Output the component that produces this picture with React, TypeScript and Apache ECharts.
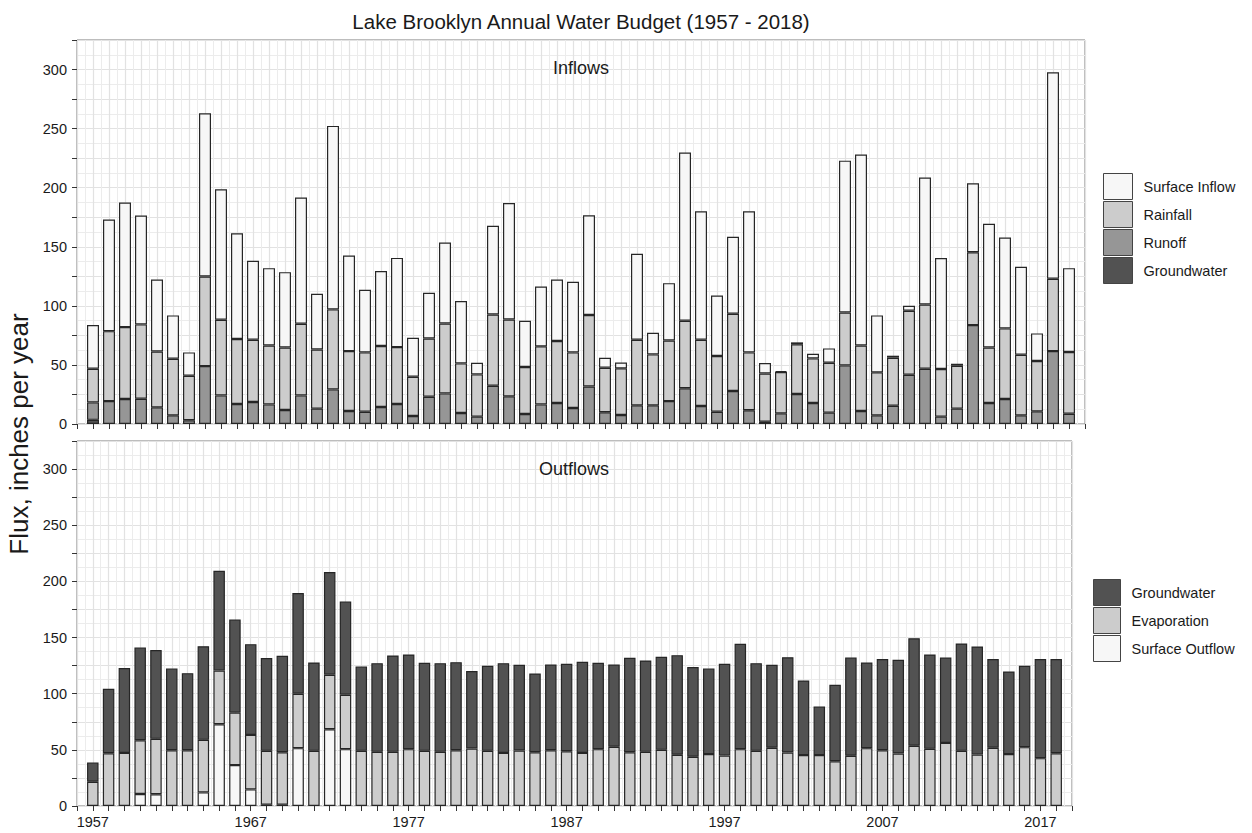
import React, { useEffect, useRef } from "react";
import * as echarts from "echarts";

const years = [
  1957, 1958, 1959, 1960, 1961, 1962, 1963, 1964, 1965, 1966, 1967, 1968, 1969, 1970, 1971, 1972,
  1973, 1974, 1975, 1976, 1977, 1978, 1979, 1980, 1981, 1982, 1983, 1984, 1985, 1986, 1987, 1988,
  1989, 1990, 1991, 1992, 1993, 1994, 1995, 1996, 1997, 1998, 1999, 2000, 2001, 2002, 2003, 2004,
  2005, 2006, 2007, 2008, 2009, 2010, 2011, 2012, 2013, 2014, 2015, 2016, 2017, 2018,
];
// axis padding years (one empty slot on each side)
const axisStart = 1956;
const axisEnd = 2019;

// Inflows (inches per year)
const inGroundwater = [
  3.5, 0, 0, 0, 0, 0, 0, 0, 0, 0, 0, 0, 0, 0, 0, 0,
  0, 0, 0, 0, 0, 0, 0, 0, 0, 0, 0, 0, 0, 0, 0, 0,
  0, 0, 0, 0, 0, 0, 0, 0, 0, 0, 0, 0, 0, 0, 0, 0,
  0, 0, 0, 0, 0, 0, 0, 0, 0, 0, 0, 0, 0, 0,
];
const inRunoff = [
  14.8, 19.4, 21.1, 21.4, 14.1, 7.3, 3.2, 49.0, 24.2, 16.9, 18.6, 16.6, 11.8, 24.2, 13.0, 29.3,
  11.0, 10.4, 14.4, 16.9, 6.8, 23.1, 25.9, 9.3, 6.2, 32.4, 23.4, 8.5, 16.6, 17.8, 13.5, 31.8,
  9.9, 7.6, 15.8, 15.8, 19.4, 30.2, 15.2, 10.4, 27.9, 11.6, 2.0, 9.0, 25.4, 17.8, 9.6, 49.6,
  11.0, 7.3, 15.5, 41.7, 46.8, 6.2, 13.0, 83.7, 17.8, 21.1, 7.3, 10.7, 61.7, 8.7,
];
const inRainfall = [
  28.5, 59.2, 60.9, 62.9, 47.3, 47.9, 37.7, 75.9, 64.0, 55.0, 52.7, 49.9, 53.0, 60.6, 50.1, 67.7,
  50.7, 50.2, 51.6, 48.2, 33.2, 49.3, 59.2, 42.0, 35.8, 60.3, 65.1, 39.7, 49.1, 52.4, 47.1, 60.4,
  37.7, 39.5, 55.5, 43.1, 51.3, 57.2, 56.1, 47.1, 65.4, 49.0, 40.8, 35.0, 42.0, 37.7, 42.3, 44.8,
  55.5, 36.4, 40.6, 54.1, 54.4, 40.3, 36.3, 61.7, 47.0, 59.8, 51.3, 42.6, 61.2, 52.2,
];
const inSurface = [
  36.9, 94.5, 105.4, 92.1, 60.9, 36.7, 19.7, 138.1, 110.5, 89.6, 66.8, 65.4, 63.7, 106.9, 47.1, 155.3,
  80.9, 53.0, 63.4, 75.5, 33.0, 38.6, 68.5, 52.7, 9.9, 75.0, 98.6, 39.2, 50.7, 52.1, 59.7, 84.5,
  8.5, 5.0, 72.7, 18.3, 48.5, 142.3, 108.8, 51.3, 65.1, 119.5, 8.8, 0.8, 1.7, 4.0, 12.1, 128.5,
  161.5, 48.2, 1.7, 4.3, 107.4, 93.9, 1.7, 58.4, 104.6, 76.9, 74.4, 23.4, 174.7, 71.0,
];

// Outflows (inches per year)
const outSurface = [
  0, 0, 0, 10.7, 10.4, 0, 0, 12.1, 72.8, 36.4, 14.8, 1.2, 1.2, 51.5, 0, 68.3,
  50.6, 0, 0, 0, 0, 0, 0, 0, 0, 0, 0, 0, 0, 0, 0, 0,
  0, 0, 0, 0, 0, 0, 0, 0, 0, 0, 0, 0, 0, 0, 0, 0,
  0, 0, 0, 0, 0, 0, 0, 0, 0, 0, 0, 0, 0, 0,
];
const outEvaporation = [
  21.6, 47.0, 47.3, 47.9, 49.4, 49.7, 49.7, 46.8, 47.9, 46.7, 48.5, 47.9, 46.7, 48.5, 49.1, 48.6,
  48.5, 49.1, 48.2, 48.2, 50.6, 49.1, 48.2, 49.7, 51.2, 49.1, 47.3, 49.4, 47.9, 49.7, 48.8, 47.3,
  50.6, 52.7, 47.9, 48.2, 50.0, 45.6, 43.8, 46.2, 45.0, 50.6, 49.1, 51.8, 47.6, 45.3, 45.3, 39.9,
  44.7, 51.5, 49.7, 46.7, 53.6, 50.9, 56.2, 49.1, 45.9, 51.8, 46.2, 52.4, 42.6, 47.0,
];
const outGroundwater = [
  17.2, 57.4, 75.5, 82.5, 79.0, 72.8, 68.6, 83.4, 88.8, 82.9, 80.8, 82.6, 85.8, 89.6, 78.7, 91.4,
  83.1, 75.2, 79.0, 85.8, 84.3, 78.4, 79.0, 78.4, 68.9, 75.8, 79.9, 76.3, 70.1, 76.3, 77.8, 81.1,
  76.9, 73.3, 84.0, 81.4, 82.8, 88.7, 79.9, 76.3, 81.6, 93.8, 78.1, 73.9, 84.9, 66.5, 43.2, 68.1,
  87.5, 76.3, 81.1, 83.5, 95.8, 84.0, 76.0, 95.6, 96.1, 79.0, 73.6, 72.5, 88.2, 83.8,
];

const yTicks = [0, 50, 100, 150, 200, 250, 300];
const xLabelYears = [1957, 1967, 1977, 1987, 1997, 2007, 2017];

const FONT = "'Liberation Sans', Arial, sans-serif";
const C_WHITE = "#f7f7f7";
const C_LIGHT = "#cccccc";
const C_MID = "#969696";
const C_DARK = "#525252";
const BORDER = "#262626";

const cats = [String(axisStart), ...years.map(String), String(axisEnd)];

function padded(arr: number[]) {
  return ["-", ...arr.map((v) => (v === 0 ? "-" : v)), "-"];
}

function makeBar(name: string, arr: number[], color: string, xIdx: number, yIdx: number, stack: string, width: number) {
  return {
    type: "bar",
    name,
    xAxisIndex: xIdx,
    yAxisIndex: yIdx,
    stack,
    barWidth: width,
    data: padded(arr),
    itemStyle: { color, borderColor: BORDER, borderWidth: 1.2 },
    emphasis: { disabled: true },
  };
}

function gridXAxis(idx: number, showLabels: boolean) {
  return {
    type: "value",
    gridIndex: idx,
    min: axisStart,
    max: axisEnd,
    interval: 1,
    axisLine: { show: false },
    axisTick: { show: true, length: 5, lineStyle: { color: "#333", width: 1 } },
    axisLabel: {
      show: showLabels,
      margin: 8,
      fontSize: 14.5,
      color: "#1a1a1a",
      fontFamily: FONT,
      formatter: (v: number) => (xLabelYears.indexOf(v) >= 0 ? String(v) : ""),
    },
    splitLine: { show: true, lineStyle: { color: "#e2e2e2", width: 1.2 } },
    minorTick: { show: false, splitNumber: 2 },
    minorSplitLine: { show: true, lineStyle: { color: "#ececec", width: 1 } },
  };
}

function barXAxis(idx: number) {
  return {
    type: "category",
    gridIndex: idx,
    data: cats,
    boundaryGap: false,
    show: false,
  };
}

function yAxis(idx: number) {
  return {
    type: "value",
    gridIndex: idx,
    min: 0,
    max: 325,
    interval: 25,
    axisLine: { show: false },
    axisTick: { show: true, length: 5, lineStyle: { color: "#333", width: 1 } },
    axisLabel: {
      margin: 10,
      fontSize: 14.5,
      color: "#1a1a1a",
      fontFamily: FONT,
      formatter: (v: number) => (yTicks.indexOf(v) >= 0 ? String(v) : ""),
    },
    splitLine: { show: true, lineStyle: { color: "#e2e2e2", width: 1.2 } },
    minorTick: { show: false, splitNumber: 2 },
    minorSplitLine: { show: true, lineStyle: { color: "#ececec", width: 1 } },
  };
}

export default function App() {
  const ref = useRef<HTMLDivElement>(null);
  useEffect(() => {
    if (!ref.current) return;
    const chart = echarts.init(ref.current, undefined, { renderer: "svg" });
    const legendText = { fontSize: 14.5, color: "#1a1a1a", fontFamily: FONT, padding: [0, 0, 0, 6] };
    chart.setOption({
      animation: false,
      backgroundColor: "#ffffff",
      grid: [
        { left: 77, top: 40, width: 1008, height: 384, show: true, borderColor: "#7a7a7a", borderWidth: 1, backgroundColor: "#ffffff" },
        { left: 77, top: 441, width: 995, height: 365, show: true, borderColor: "#7a7a7a", borderWidth: 1, backgroundColor: "#ffffff" },
      ],
      xAxis: [gridXAxis(0, false), barXAxis(0), gridXAxis(1, true), barXAxis(1)],
      yAxis: [yAxis(0), yAxis(1)],
      legend: [
        {
          orient: "vertical",
          left: 1103,
          top: 173,
          padding: 0,
          itemWidth: 29,
          itemHeight: 26,
          itemGap: 1,
          icon: "rect",
          selectedMode: false,
          data: ["Surface Inflow", "Rainfall", "Runoff", "Groundwater"],
          itemStyle: { borderColor: "#444", borderWidth: 1 },
          textStyle: legendText,
        },
        {
          orient: "vertical",
          left: 1093,
          top: 579,
          padding: 0,
          itemWidth: 27,
          itemHeight: 26,
          itemGap: 1,
          icon: "rect",
          selectedMode: false,
          data: ["Groundwater", "Evaporation", "Surface Outflow"],
          itemStyle: { borderColor: "#444", borderWidth: 1 },
          textStyle: legendText,
        },
      ],
      graphic: [
        {
          type: "text",
          x: 581,
          y: 21,
          z: 100,
          style: {
            text: "Lake Brooklyn Annual Water Budget (1957 - 2018)",
            fontSize: 20.5,
            fontFamily: FONT,
            fill: "#1a1a1a",
            align: "center",
            verticalAlign: "middle",
          },
        },
        {
          type: "text",
          x: 581,
          y: 68,
          z: 100,
          style: { text: "Inflows", fontSize: 18, fontFamily: FONT, fill: "#1a1a1a", align: "center", verticalAlign: "middle" },
        },
        {
          type: "text",
          x: 574,
          y: 469,
          z: 100,
          style: { text: "Outflows", fontSize: 18, fontFamily: FONT, fill: "#1a1a1a", align: "center", verticalAlign: "middle" },
        },
        {
          type: "text",
          x: 19,
          y: 434,
          z: 100,
          rotation: Math.PI / 2,
          style: {
            text: "Flux, inches per year",
            fontSize: 26,
            fontFamily: FONT,
            fill: "#1a1a1a",
            align: "center",
            verticalAlign: "middle",
          },
        },
      ],
      series: [
        makeBar("Groundwater", inGroundwater, C_DARK, 1, 0, "in", 12),
        makeBar("Runoff", inRunoff, C_MID, 1, 0, "in", 12),
        makeBar("Rainfall", inRainfall, C_LIGHT, 1, 0, "in", 12),
        makeBar("Surface Inflow", inSurface, C_WHITE, 1, 0, "in", 12),
        makeBar("Surface Outflow", outSurface, C_WHITE, 3, 1, "out", 11.5),
        makeBar("Evaporation", outEvaporation, C_LIGHT, 3, 1, "out", 11.5),
        makeBar("Groundwater", outGroundwater, C_DARK, 3, 1, "out", 11.5),
      ],
    });
    return () => chart.dispose();
  }, []);
  return <div ref={ref} style={{ position: "fixed", left: 0, top: 0, width: 1252, height: 833 }} />;
}
